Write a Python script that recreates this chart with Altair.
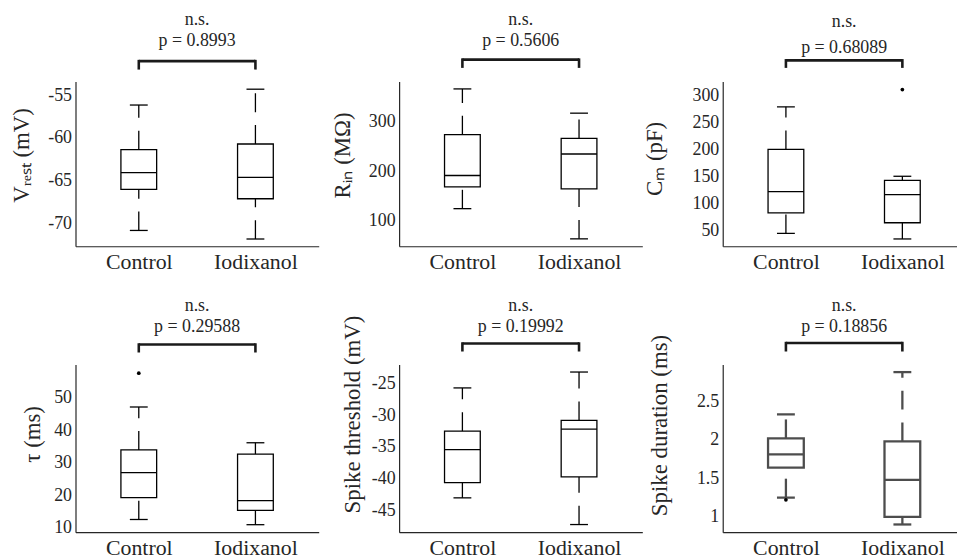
import altair as alt
import pandas as pd

groups = ["Control", "Iodixanol"]
positions = [1, 2]

# [lower whisker, q1, median, q3, upper whisker]
vrest_ctrl = [-70.8, -66.0, -64.05, -61.35, -56.15]
vrest_iodx = [-71.8, -67.1, -64.6, -60.7, -54.3]
rin_ctrl = [124, 168, 191, 273.5, 366]
rin_iodx = [63, 164, 234.5, 266, 317]
cm_ctrl = [45, 83, 122.5, 201, 280]
cm_iodx = [34.6, 64.7, 117, 143.4, 151]
tau_ctrl = [12.5, 19.2, 26.9, 33.9, 47.1]
tau_iodx = [10.9, 15.3, 18.3, 32.6, 36.1]
thr_ctrl = [-43.0, -40.6, -35.4, -32.5, -25.7]
thr_iodx = [-47.2, -39.7, -32.2, -30.8, -23.2]
dur_ctrl = [1.25, 1.64, 1.81, 2.02, 2.33]
dur_iodx = [0.90, 1.00, 1.48, 1.98, 2.88]

# outliers: (group position, value)
cm_out = [(2, 312)]
tau_out = [(1, 57.5)]
dur_out = [(1, 1.22)]

p_values = ["p = 0.8993", "p = 0.5606", "p = 0.68089",
            "p = 0.29588", "p = 0.19992", "p = 0.18856"]
y_titles = ["V\u1d63\u2091\u209b\u209c  (mV)", "R\u1d62\u2099 (M\u03a9)", "C\u2098 (pF)",
            "\u03c4 (ms)", "Spike threshold (mV)", "Spike duration (ms)"]
y_domains = [[-72.65, -53.4], [48, 381], [21, 327],
             [8.6, 60.2], [-48.4, -22.0], [0.8, 2.98]]
y_ticks = [[-70, -65, -60, -55], [100, 200, 300], [50, 100, 150, 200, 250, 300],
           [10, 20, 30, 40, 50], [-45, -40, -35, -30, -25], [1, 1.5, 2, 2.5]]

FONT = "Liberation Serif"
TXT = "#262626"


def panel(ctrl, iodx, outl, ptxt, title, domain, ticks, width, height,
          title_x, title_y, color, lw, ann):
    xmax = 0.5 + width / 122.5
    df = pd.DataFrame({
        "pos": positions, "group": groups,
        "lo": [ctrl[0], iodx[0]], "q1": [ctrl[1], iodx[1]],
        "med": [ctrl[2], iodx[2]], "q3": [ctrl[3], iodx[3]],
        "hi": [ctrl[4], iodx[4]],
    })
    label_expr = " : ".join(
        f"datum.value == {p} ? '{g}'" for p, g in zip(positions[:-1], groups[:-1])
    ) + f" : '{groups[-1]}'"
    xscale = alt.Scale(domain=[0.5, xmax], nice=False, zero=False)
    xaxis = alt.Axis(values=positions, labelExpr=label_expr, title=None, ticks=False,
                     grid=False, labelFont=FONT, labelFontSize=22, labelColor=TXT,
                     labelPadding=5, domainColor=TXT, domainWidth=1.2)
    yscale = alt.Scale(domain=domain, nice=False, zero=False)
    yaxis = alt.Axis(values=ticks, labelExpr="'' + datum.value", title=title,
                     ticks=False, grid=False, labelFont=FONT, labelFontSize=18,
                     labelColor=TXT, labelPadding=4, domainColor=TXT, domainWidth=1.2,
                     titleFont=FONT, titleFontSize=23, titleFontWeight="normal",
                     titleColor=TXT, titleX=title_x, titleY=title_y,
                     titleAngle=270, titleAlign="center", titleBaseline="alphabetic")

    def X(f):
        return alt.X(f, scale=xscale, axis=xaxis)

    def Y(f):
        return alt.Y(f, scale=yscale, axis=yaxis)

    base = alt.Chart(df)
    dash = [19, 13]
    w_up = base.mark_rule(color=color, strokeWidth=lw, strokeDash=dash).encode(
        x=X("pos:Q"), y=Y("q3:Q"), y2="hi:Q")
    w_lo = base.mark_rule(color=color, strokeWidth=lw, strokeDash=dash).encode(
        x=X("pos:Q"), y=Y("lo:Q"), y2="q1:Q")
    cap_hi = base.mark_tick(orient="horizontal", size=18, thickness=lw, color=color,
                            opacity=1).encode(x=X("pos:Q"), y=Y("hi:Q"))
    cap_lo = base.mark_tick(orient="horizontal", size=18, thickness=lw, color=color,
                            opacity=1).encode(x=X("pos:Q"), y=Y("lo:Q"))
    box = base.mark_bar(size=36, fill="white", stroke=color, strokeWidth=lw).encode(
        x=X("pos:Q"), y=Y("q1:Q"), y2="q3:Q")
    med = base.mark_tick(orient="horizontal", size=36, thickness=lw, color=color,
                         opacity=1).encode(x=X("pos:Q"), y=Y("med:Q"))
    layers = [w_up, w_lo, cap_hi, cap_lo, box, med]
    if outl:
        odf = pd.DataFrame({"pos": [o[0] for o in outl], "val": [o[1] for o in outl]})
        layers.append(alt.Chart(odf).mark_point(filled=True, size=14, color="black",
                                                opacity=1).encode(x=X("pos:Q"), y=Y("val:Q")))
    ns_y, p_y, br_y, end_y = ann
    bdf = pd.DataFrame({"a": [positions[0]], "b": [positions[-1]],
                        "mid": [sum(positions) / len(positions)],
                        "ns": ["n.s."], "p": [ptxt]})
    ddf = pd.DataFrame({"pos": positions})
    layers.append(alt.Chart(bdf).mark_rule(color="#1a1a1a", strokeWidth=2.6).encode(
        x=X("a:Q"), x2="b:Q", y=alt.value(br_y)))
    layers.append(alt.Chart(ddf).mark_rule(color="#1a1a1a", strokeWidth=2.6).encode(
        x=X("pos:Q"), y=alt.value(br_y - 1.3), y2=alt.value(end_y)))
    layers.append(alt.Chart(bdf).mark_text(font=FONT, fontSize=18, color=TXT,
                                           baseline="alphabetic").encode(
        x=X("mid:Q"), y=alt.value(p_y), text="p:N"))
    layers.append(alt.Chart(bdf).mark_text(font=FONT, fontSize=18, color=TXT,
                                           baseline="alphabetic").encode(
        x=X("mid:Q"), y=alt.value(ns_y), text="ns:N"))
    return alt.layer(*layers).properties(width=width, height=height)


GRAY = "#4d4d4d"
p1 = panel(vrest_ctrl, vrest_iodx, [], p_values[0], y_titles[0], y_domains[0], y_ticks[0],
           245, 166, -47, 74, "black", 1.3, (-57, -35.3, -20.5, -12))
p2 = panel(rin_ctrl, rin_iodx, [], p_values[1], y_titles[1], y_domains[1], y_ticks[1],
           245, 166, -50, 74, "black", 1.3, (-57, -35.3, -22, -13.7))
p3 = panel(cm_ctrl, cm_iodx, cm_out, p_values[2], y_titles[2], y_domains[2], y_ticks[2],
           236, 166, -62, 77.5, "black", 1.3, (-55.3, -28.7, -21.3, -13.7))
p4 = panel(tau_ctrl, tau_iodx, tau_out, p_values[3], y_titles[3], y_domains[3], y_ticks[3],
           245, 169, -36, 70, "black", 1.3, (-54, -33, -20, -12))
p5 = panel(thr_ctrl, thr_iodx, [], p_values[4], y_titles[4], y_domains[4], y_ticks[4],
           245, 169, -40, 50, "black", 1.3, (-54, -33, -21, -13))
p6 = panel(dur_ctrl, dur_iodx, dur_out, p_values[5], y_titles[5], y_domains[5], y_ticks[5],
           236, 169, -57, 61, GRAY, 2.3, (-54, -33, -21.5, -13))

chart = alt.concat(p1, p2, p3, p4, p5, p6, columns=3,
                   spacing={"row": 119, "column": 81}, bounds="flush").properties(
    padding={"left": 3, "top": 1, "right": 0, "bottom": 0},
    background="white",
).configure_view(stroke=None)

chart.save("out.html", embed_options={"renderer": "svg", "actions": False})
